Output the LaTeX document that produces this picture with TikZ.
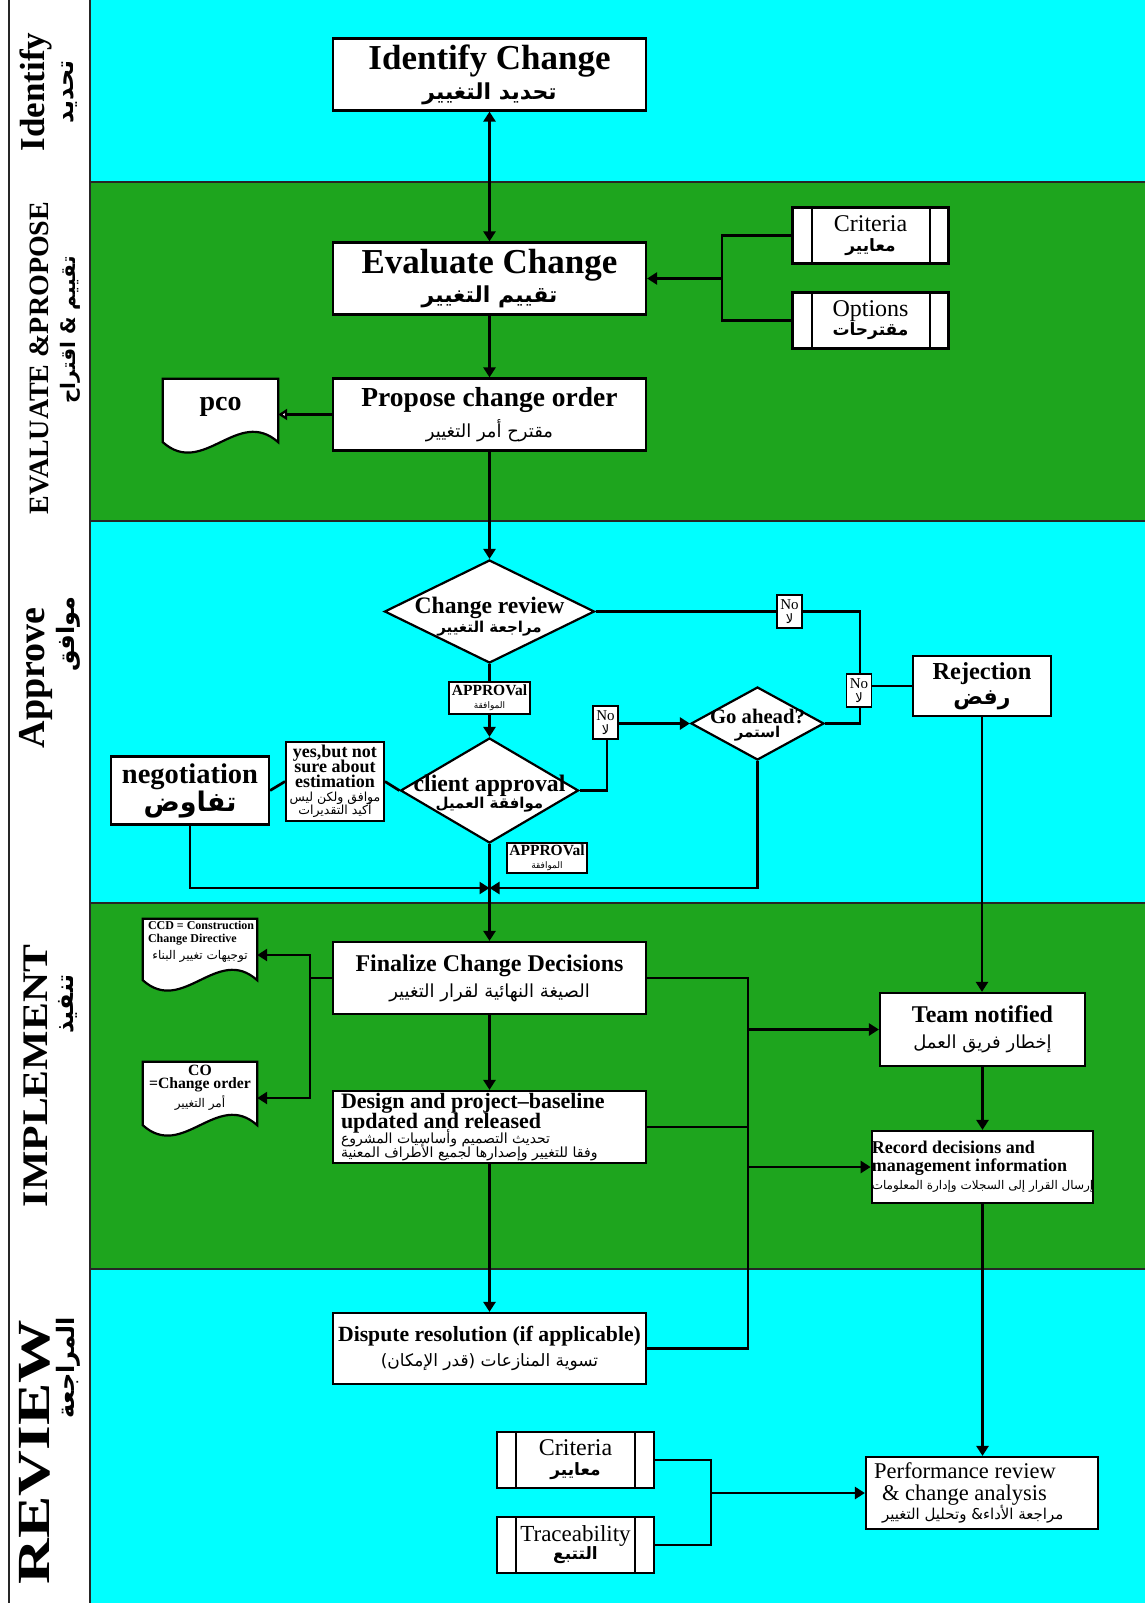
\documentclass[tikz,border=0pt]{standalone}
\usepackage{fontspec}
\setmainfont{Liberation Serif}
\newfontfamily\arfont[Script=Arabic]{DejaVu Sans}
\TeXXeTstate=1
\usetikzlibrary{arrows.meta,shapes.geometric,calc}
\newcommand\fsz[2]{\fontsize{#1}{#2}\selectfont}
\newcommand\artxt[1]{{\arfont\beginR #1\endR}}
\definecolor{lanecyan}{RGB}{0,255,255}
\definecolor{lanegreen}{RGB}{30,165,30}
\pgfdeclarelayer{lanes}
\pgfdeclarelayer{docs}
\pgfsetlayers{lanes,docs,main}
\tikzset{
  boxline/.style={draw=black, line width=2.2pt},
  box/.style={boxline, fill=white, inner sep=0pt, align=center},
  wide/.style={box, minimum width=313pt, minimum height=72pt},
  proc/.style={box, minimum width=156pt, minimum height=56pt,
    path picture={\draw[line width=2pt]
      ([xshift=19pt]path picture bounding box.north west) -- ([xshift=19pt]path picture bounding box.south west)
      ([xshift=-19pt]path picture bounding box.north east) -- ([xshift=-19pt]path picture bounding box.south east);}},
  dia/.style={boxline, fill=white, diamond, inner sep=0pt},
  dtxt/.style={align=center, inner sep=0pt},
  doc/.style={inner sep=0pt},
  tag/.style={box, line width=1.6pt},
  lanelbl/.style={rotate=90, inner sep=0pt},
  laneline/.style={draw=black!85, line width=1.8pt},
  conn/.style={line width=2.7pt, draw=black},
  arr/.style={conn, -{Triangle[length=10pt,width=12pt]}},
}
% document symbol: flat top, wavy bottom edge
\newcommand\docoutline[1]{%
  \filldraw[boxline, fill=white] (#1.north west) -- (#1.north east) -- (#1.south east)
    .. controls ($(#1.south east)!0.35!(#1.south west)+(0,-36)$)
       and ($(#1.south east)!0.65!(#1.south west)+(0,36)$) .. (#1.south west) -- cycle;}
\begin{document}
\lineskiplimit=-100pt \lineskip=0pt
\begin{tikzpicture}[x=1pt,y=-1pt]
\useasboundingbox (0,0) rectangle (1145,1603);

% swim lanes
\begin{pgfonlayer}{lanes}
  \fill[white] (0,0) rectangle (1145,1603);
  \fill[lanecyan]  (90,0)    rectangle (1145,182);
  \fill[lanegreen] (90,182)  rectangle (1145,521);
  \fill[lanecyan]  (90,521)  rectangle (1145,903);
  \fill[lanegreen] (90,903)  rectangle (1145,1269);
  \fill[lanecyan]  (90,1269) rectangle (1145,1603);
  \draw[laneline] (9,0) -- (9,1603);
  \draw[laneline] (90,0) -- (90,1603);
  \draw[laneline] (90,182) -- (1145,182);
  \draw[laneline] (90,521) -- (1145,521);
  \draw[laneline] (90,903) -- (1145,903);
  \draw[laneline] (90,1269) -- (1145,1269);
\end{pgfonlayer}

% lane titles
\node[lanelbl, font=\fsz{35}{35}\bfseries] (lid) at (36,92) {Identify};
\node[lanelbl, font=\fsz{24}{24}\bfseries] (lidar) at (70,92) {\artxt{تحديد}};
\node[lanelbl, font=\fsz{28}{28}\bfseries] (lev) at (39,358) {EVALUATE \&PROPOSE};
\node[lanelbl, font=\fsz{20}{20}\bfseries] (levar) at (70,330) {\artxt{تقييم \& اقتراح}};
\node[lanelbl, font=\fsz{38}{38}\bfseries] (lap) at (36,678) {Approve};
\node[lanelbl, font=\fsz{24}{24}\bfseries] (lapar) at (68,634) {\artxt{موافق}};
\node[lanelbl, font=\fsz{36}{36}\bfseries] (lim) at (36,1076) {\scalebox{1.16}[1]{IMPLEMENT}};
\node[lanelbl, font=\fsz{24}{24}\bfseries] (limar) at (68,1004) {\artxt{تنفيذ}};
\node[lanelbl, font=\fsz{46}{46}\bfseries] (lrv) at (35,1452) {\scalebox{1.38}[1]{REVIEW}};
\node[lanelbl, font=\fsz{24}{24}\bfseries] (lrvar) at (68,1368) {\artxt{المراجعة}};

% identify / evaluate / propose
\node[wide, font=\fsz{20}{30}] (id) at (489.5,74.5)
  {\fsz{35}{35}\bfseries Identify Change\\ \fsz{22}{22}\bfseries\artxt{تحديد التغيير}};
\node[wide, font=\fsz{20}{29}] (ev) at (489.5,278.5)
  {\fsz{35}{35}\bfseries Evaluate Change\\ \fsz{22}{22}\bfseries\artxt{تقييم التغيير}};
\node[wide, font=\fsz{20}{31}] (pr) at (489.5,414.5)
  {\fsz{27.5}{28}\bfseries Propose change order\\ \fsz{18}{18}\artxt{مقترح أمر التغيير}};
\node[proc, font=\fsz{18}{20}] (cr1) at (870.5,235.5)
  {\fsz{24}{24}Criteria\\ \fsz{17}{17}\bfseries\artxt{معايير}};
\node[proc, font=\fsz{18}{19}] (op1) at (870.5,320.5)
  {\fsz{24}{24}Options\\ \fsz{17}{17}\bfseries\artxt{مقترحات}};
\node[doc, minimum width=115pt, minimum height=63pt] (pco) at (220.5,410.5) {};

% approval stage
\node[dia, minimum width=210pt, minimum height=103pt,
  label={[dtxt, font=\fsz{14}{19}, yshift=-5pt]center:{\fsz{23.6}{24}\bfseries Change review\\ \fsz{15}{15}\bfseries\arfont\beginR مراجعة التغيير\endR}}]
  (crv) at (489.5,611.5) {};
\node[dia, minimum width=178pt, minimum height=105pt,
  label={[dtxt, font=\fsz{14}{17}, yshift=-3pt]center:{\fsz{23.7}{24}\bfseries client approval\\ \fsz{15}{15}\bfseries\arfont\beginR موافقة العميل\endR}}]
  (cap) at (489.5,790.5) {};
\node[dia, minimum width=133pt, minimum height=73pt,
  label={[dtxt, font=\fsz{12}{14}, yshift=-2pt]center:{\fsz{20.7}{21}\bfseries Go ahead?\\ \fsz{15}{15}\bfseries\arfont\beginR استمر\endR}}]
  (ga) at (757.5,723.5) {};
\node[box, minimum width=138pt, minimum height=60pt, font=\fsz{18}{25}] (rej) at (982,686)
  {\fsz{24.4}{25}\bfseries Rejection\\ \fsz{22}{22}\bfseries\artxt{رفض}};
\node[box, minimum width=158pt, minimum height=68pt, font=\fsz{20}{28}] (neg) at (190,790.5)
  {\fsz{28.5}{29}\bfseries negotiation\\ \fsz{27}{27}\bfseries\artxt{تفاوض}};
\node[box, minimum width=98pt, minimum height=79pt, line width=2pt, font=\fsz{13}{14}] (yes) at (335,781.5)
  {\fsz{18}{18}\bfseries yes,but not\\[1pt] \fsz{18}{18}\bfseries sure about\\[1pt] \fsz{18}{18}\bfseries estimation\\
   \fsz{12.5}{13}\artxt{موافق ولكن ليس}\\[-1pt] \fsz{12.5}{13}\artxt{أكيد التقديرات}};

% implementation stage
\node[wide, font=\fsz{20}{26}] (fin) at (489.5,978)
  {\fsz{24}{24}\bfseries Finalize Change Decisions\\ \fsz{18}{18}\artxt{الصيغة النهائية لقرار التغيير}};
\node[wide, align=left, font=\fsz{14}{14}] (des) at (489.5,1127)
  {\makebox[297pt][l]{\fsz{22}{22}\bfseries Design and project--baseline}\\[6.5pt]
   \fsz{22}{22}\bfseries updated and released\\[1pt]
   \fsz{14}{14}\artxt{تحديث التصميم وأساسيات المشروع}\\
   \fsz{14}{14}\artxt{وفقا للتغيير وإصدارها لجميع الأطراف المعنية}};
\node[doc, minimum width=114pt, minimum height=61pt, align=left, font=\fsz{12}{13}, text depth=18pt] (ccd) at (200,949.5)
  {\makebox[104pt][l]{\fsz{12}{12}\bfseries CCD = Construction}\\
   \fsz{12}{12}\bfseries Change Directive\\[4pt]
   \makebox[104pt][c]{\fsz{12}{12}\artxt{توجيهات تغيير البناء}}};
\node[doc, minimum width=114pt, minimum height=63pt, align=center, font=\fsz{14}{13}, text depth=14pt] (co) at (200,1093.5)
  {\fsz{15.7}{16}\bfseries CO\\ \fsz{15.7}{16}\bfseries =Change order\\[6pt] \fsz{12}{12}\artxt{أمر التغيير}};
\node[box, minimum width=205pt, minimum height=73pt, font=\fsz{18}{26}] (tn) at (982.5,1029.5)
  {\fsz{24}{24}\bfseries Team notified\\ \fsz{18}{18}\artxt{إخطار فريق العمل}};
\node[box, minimum width=205pt, minimum height=72pt, align=left, font=\fsz{12}{17.5}] (rec) at (982.5,1167)
  {\makebox[198pt][l]{\fsz{18}{18}\bfseries Record decisions and}\\
   \fsz{18}{18}\bfseries management information\\[1pt]
   \fsz{12}{12}\artxt{إرسال القرار إلى السجلات وإدارة المعلومات}};

% review stage
\node[wide, minimum height=71pt, font=\fsz{18}{25}] (dis) at (489.5,1348.5)
  {\fsz{21.7}{22}\bfseries Dispute resolution (if applicable)\\ \fsz{17}{17}\artxt{تسوية المنازعات (قدر الإمكان)}};
\node[proc, minimum width=157pt, font=\fsz{18}{20}] (cr2) at (575.5,1460)
  {\fsz{24}{24}Criteria\\ \fsz{17}{17}\bfseries\artxt{معايير}};
\node[proc, minimum width=157pt, font=\fsz{18}{18}] (trc) at (575.5,1545)
  {\fsz{23}{23}Traceability\\ \fsz{17}{17}\bfseries\artxt{التتبع}};
\node[box, minimum width=232pt, minimum height=72pt, align=left, font=\fsz{15}{19}] (prf) at (982,1493)
  {\makebox[216pt][l]{\fsz{22.5}{23}Performance review}\\[2.5pt]
   \fsz{22.5}{23}\hspace*{8pt}\& change analysis\\
   \fsz{15}{15}\hspace*{8pt}\artxt{مراجعة الأداء\& وتحليل التغيير}};

% document symbols
\begin{pgfonlayer}{docs}
  \docoutline{pco}
  \docoutline{ccd}
  \docoutline{co}
\end{pgfonlayer}
\node[doc, font=\fsz{28}{28}\bfseries] (pcotxt) at ([yshift=4pt]pco.center) {pco};

% connectors
\draw[conn, {Triangle[length=10pt,width=12pt]}-{Triangle[length=10pt,width=12pt]}] (id.south) -- (ev.north);
\coordinate (jev) at (722,278.5);
\draw[conn] (cr1.west) -| (jev) |- (op1.west);
\draw[arr] (jev) -- (ev.east);
\draw[arr] (ev.south) -- (pr.north);
\draw[conn, -{Triangle[length=9pt,width=11pt,fill=white]}] (pr.west) -- (pr.west -| pco.east);
\draw[arr] (pr.south) -- (crv.north);

\draw[arr] (crv.south) -- (cap.north);
\coordinate (jrej) at (860,723.5);
\draw[conn] (crv.east) -| (jrej) -- (ga.east);
\draw[conn] (rej.west) -- (rej.west -| jrej);
\coordinate (jga) at (607,723.5);
\draw[arr] (cap.east) -| (jga) -- (ga.west);
\draw[conn] (neg.east) -- (yes.west);
\draw[conn] (yes.east) -- (cap.west);
\coordinate (jmerge) at (489.5,888);
\draw[arr] (neg.south) |- (jmerge);
\draw[arr] (ga.south) |- (jmerge);
\draw[arr] (cap.south) -- (fin.north);
\draw[arr] (rej.south) -- (rej.south |- tn.north);

\coordinate (jfin) at (310,978);
\draw[conn] (fin.west) -- (jfin);
\draw[arr] (jfin) |- ([yshift=-5.5pt]ccd.east);
\draw[arr] (jfin) |- ([yshift=-4.5pt]co.east);
\draw[arr] (fin.south) -- (des.north);
\coordinate (jr) at (748,978);
\draw[conn] (fin.east) -- (jr) -- (jr |- dis.east) -- (dis.east);
\draw[conn] (des.east) -- (des.east -| jr);
\draw[arr] (jr |- tn.west) -- (tn.west);
\draw[arr] (jr |- rec.west) -- (rec.west);
\draw[arr] (tn.south) -- (tn.south |- rec.north);
\draw[arr] (des.south) -- (dis.north);
\draw[arr] (rec.south) -- (rec.south |- prf.north);
\coordinate (jrev) at (711,1493);
\draw[conn] (cr2.east) -| (jrev) |- (trc.east);
\draw[arr] (jrev) -- (prf.west);

% branch tags sitting on the connectors
\node[tag, minimum width=81pt, minimum height=32pt, font=\fsz{10}{13}] (apv1) at (489.5,698)
  {\fsz{15.5}{15}\bfseries APPROVal\\ \fsz{9}{9}\artxt{الموافقة}};
\node[tag, minimum width=80pt, minimum height=30pt, font=\fsz{10}{13}] (apv2) at (547,858)
  {\fsz{15.5}{15}\bfseries APPROVal\\ \fsz{9}{9}\artxt{الموافقة}};
\node[tag, minimum width=25pt, minimum height=33pt, font=\fsz{10}{14}] (no1) at (789.5,611.5)
  {\fsz{15}{15}No\\ \fsz{13}{13}\artxt{لا}};
\node[tag, minimum width=25pt, minimum height=33pt, font=\fsz{10}{14}] (no2) at (859,690.5)
  {\fsz{15}{15}No\\ \fsz{13}{13}\artxt{لا}};
\node[tag, minimum width=25pt, minimum height=33pt, font=\fsz{10}{14}] (no3) at (605.5,722.5)
  {\fsz{15}{15}No\\ \fsz{13}{13}\artxt{لا}};
\end{tikzpicture}
\end{document}
